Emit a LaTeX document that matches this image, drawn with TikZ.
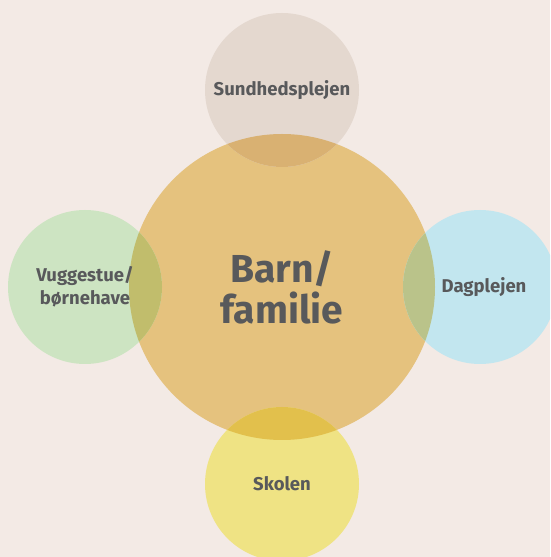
\documentclass[tikz,border=0pt]{standalone}
\usepackage{fontspec}
\setmainfont{Fira Sans}
\definecolor{bgcol}{HTML}{F3EAE5}
\definecolor{gold}{HTML}{E5C27E}
\definecolor{sand}{HTML}{E4D8CF}
\definecolor{sandgold}{HTML}{D9B172}
\definecolor{mint}{HTML}{CDE4C2}
\definecolor{mintgold}{HTML}{C1BD6C}
\definecolor{sky}{HTML}{C2E6EF}
\definecolor{skygold}{HTML}{BAC38A}
\definecolor{lemon}{HTML}{EFE384}
\definecolor{lemongold}{HTML}{E2C04C}
\definecolor{ink}{HTML}{58595B}
\tikzset{
  x=1pt, y=1pt,
  hub/.style={circle, inner sep=0pt, minimum size=306pt},
  sat/.style={circle, inner sep=0pt, minimum size=154pt},
  satlabel/.style={text=ink, font=\fontsize{18.5}{23}\selectfont\bfseries, align=center},
  hublabel/.style={text=ink, font=\fontsize{39}{41}\selectfont\bfseries, align=center}
}
\begin{document}
\begin{tikzpicture}
\fill[bgcol] (0,0) rectangle (550,557);
\useasboundingbox (0,0) rectangle (550,557);
\begin{scope}
\clip (0,0) rectangle (550,557);
% circles
\node[hub, fill=gold] (hub) at (282,270) {};
\node[sat, fill=sand] (top) at (282,467) {};
\node[sat, fill=mint] (left) at (85,270) {};
\node[sat, fill=sky] (right) at (480,270) {};
\node[sat, fill=lemon] (bottom) at (282,73) {};
% overlaps with the central circle
\begin{scope}
  \clip (282,270) circle (153pt);
  \fill[sandgold] (282,467) circle (77pt);
  \fill[mintgold] (85,270) circle (77pt);
  \fill[skygold] (480,270) circle (77pt);
  \fill[lemongold] (282,73) circle (77pt);
\end{scope}
\end{scope}
% labels
\node[hublabel] (hubtext) at (hub.center) {Barn/\\familie};
\node[satlabel] (toptext) at (top.center) {Sundhedsplejen};
\node[satlabel] (lefttext) at (left.center) {Vuggestue/\\børnehave};
\node[satlabel] (righttext) at ([xshift=4pt]right.center) {Dagplejen};
\node[satlabel] (bottomtext) at (bottom.center) {Skolen};
\end{tikzpicture}
\end{document}
